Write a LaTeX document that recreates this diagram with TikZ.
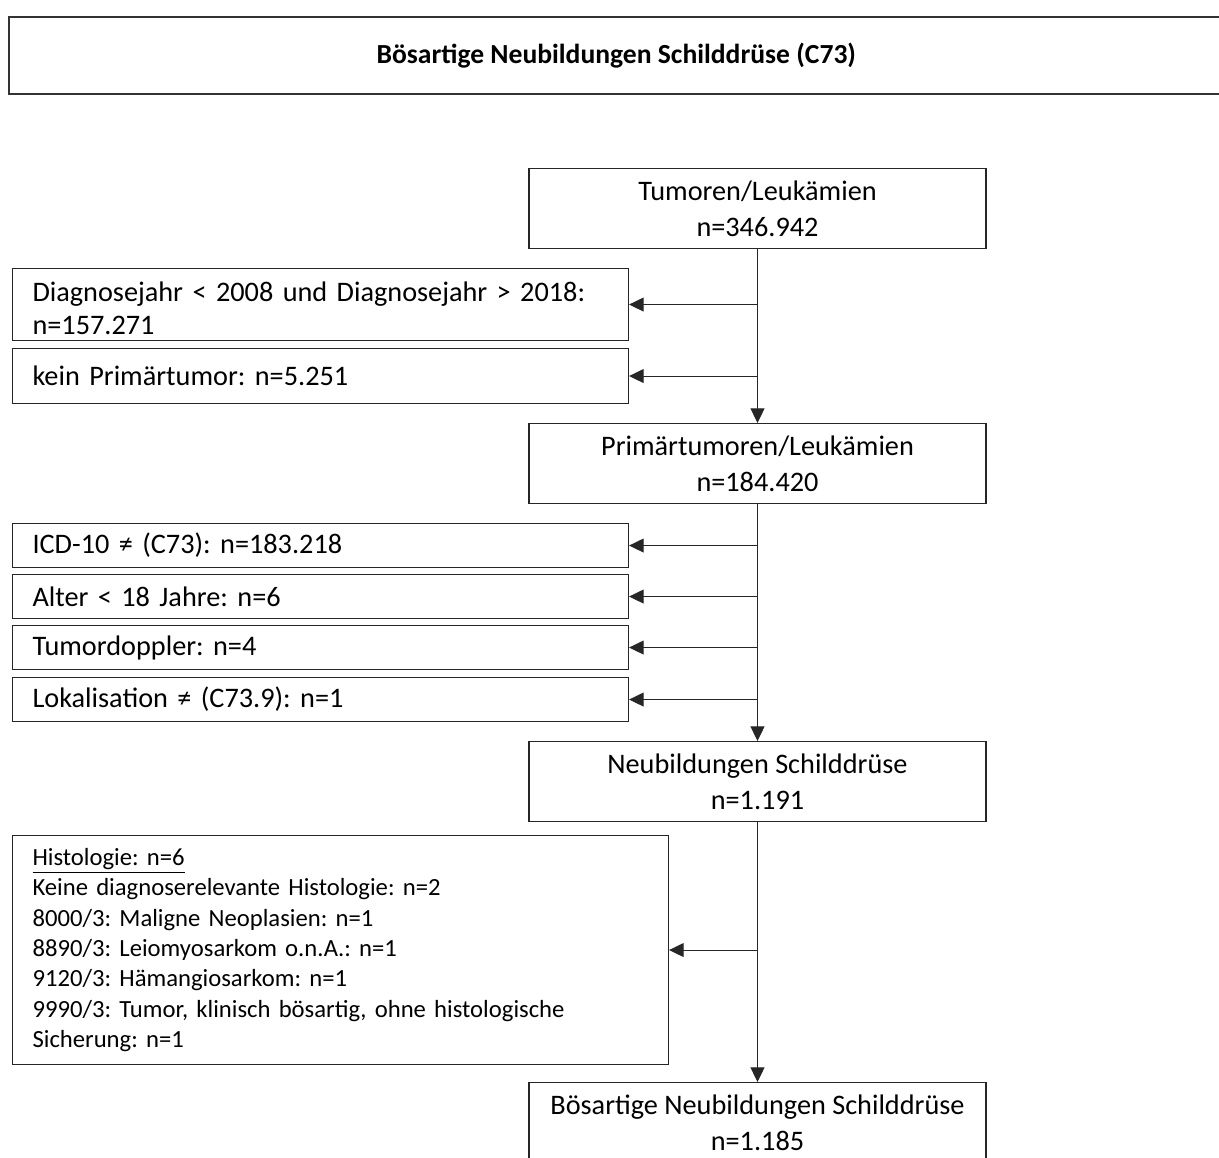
\documentclass[tikz,border=0pt]{standalone}
\usepackage{fontspec}
\setmainfont{Carlito}
\frenchspacing
\usetikzlibrary{arrows.meta}
\definecolor{BoxLine}{HTML}{262626}

\begin{document}
\begin{tikzpicture}[x=0.75pt,y=-0.75pt,>={Triangle[length=11pt,width=10.5pt]},
    flowBox/.style={draw=BoxLine,line width=0.8pt,minimum width=342.75pt,minimum height=60pt,
      align=center,anchor=north,font=\fontsize{21.2}{27}\selectfont},
    sideBox/.style={draw=BoxLine,line width=0.8pt,text width=432pt,inner xsep=15pt,
      align=left,anchor=north west,font=\fontsize{21.2}{24.75}\selectfont},
    histoBox/.style={draw=BoxLine,line width=0.8pt,text width=462pt,inner xsep=15pt,
      minimum height=171.75pt,align=left,anchor=north west,font=\fontsize{18.5}{22.7}\selectfont}]
  \useasboundingbox (0,0) rectangle (1219,1157);
  \node[draw=black!80,line width=1.2pt,minimum width=911.25pt,minimum height=57.75pt,anchor=north west,
    font=\fontsize{20.7}{24}\selectfont\bfseries] (titel) at (8,16) {Bösartige Neubildungen Schilddrüse (C73)};

  \node[flowBox] (tum) at (757.5,168) {Tumoren/Leukämien\\n=346.942};
  \node[sideBox,minimum height=54pt,text height=20pt] (jahr) at (12,268) {Diagnosejahr < 2008 und Diagnosejahr > 2018:\\n=157.271};
  \node[sideBox,minimum height=41.25pt] (kein) at (12,348) {kein Primärtumor: n=5.251};
  \node[flowBox] (prim) at (757.5,423) {Primärtumoren/Leukämien\\n=184.420};
  \node[sideBox,minimum height=33pt] (icd) at (12,523) {ICD-10 ≠ (C73): n=183.218};
  \node[sideBox,minimum height=33pt] (alter) at (12,574) {Alter < 18 Jahre: n=6};
  \node[sideBox,minimum height=33pt] (doppel) at (12,625) {Tumordoppler: n=4};
  \node[sideBox,minimum height=33pt] (lokal) at (12,677) {Lokalisation ≠ (C73.9): n=1};
  \node[flowBox] (neu) at (757.5,741) {Neubildungen Schilddrüse\\n=1.191};
  \node[histoBox] (histo) at (12,835) {\underline{Histologie: n=6}\\
    Keine diagnoserelevante Histologie: n=2\\
    8000/3: Maligne Neoplasien: n=1\\
    8890/3: Leiomyosarkom o.n.A.: n=1\\
    9120/3: Hämangiosarkom: n=1\\
    9990/3: Tumor, klinisch bösartig, ohne histologische\\
    Sicherung: n=1};
  \node[flowBox] (boes) at (757.5,1082) {Bösartige Neubildungen Schilddrüse\\n=1.185};

  \draw[BoxLine,line width=0.8pt,->] (tum) -- (prim);
  \draw[BoxLine,line width=0.8pt,->] (prim) -- (neu);
  \draw[BoxLine,line width=0.8pt,->] (neu) -- (boes);
  \foreach \cut in {jahr,kein}
    \draw[BoxLine,line width=0.8pt,->] (tum.south |- \cut.east) -- (\cut.east);
  \foreach \cut in {icd,alter,doppel,lokal}
    \draw[BoxLine,line width=0.8pt,->] (prim.south |- \cut.east) -- (\cut.east);
  \draw[BoxLine,line width=0.8pt,->] (neu.south |- histo.east) -- (histo.east);
\end{tikzpicture}
\end{document}
